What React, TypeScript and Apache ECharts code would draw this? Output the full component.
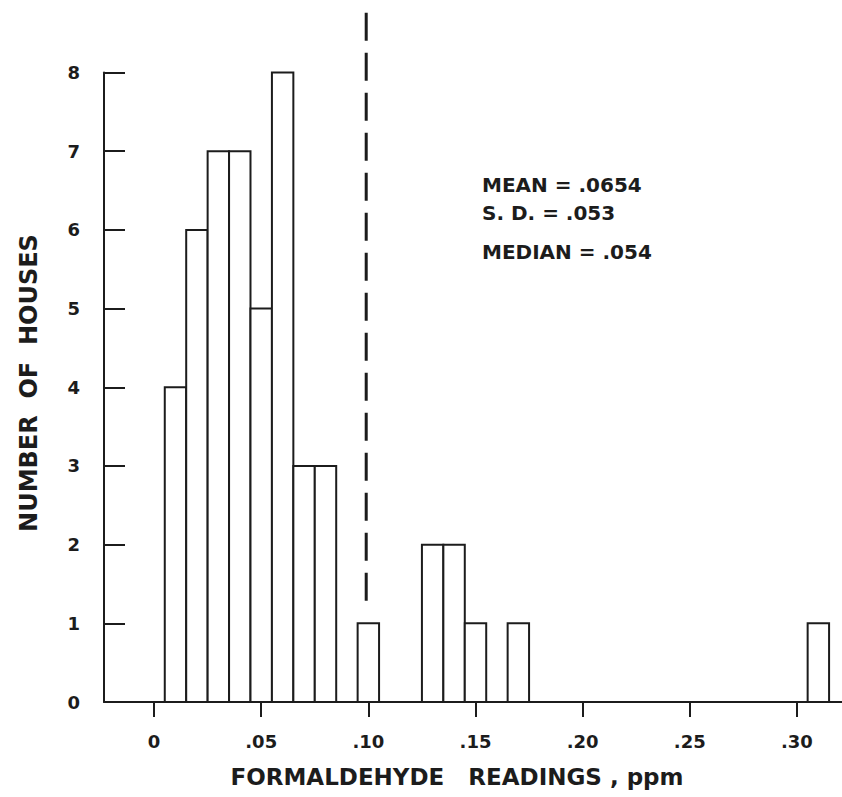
import React, { useEffect, useRef } from "react";
import * as echarts from "echarts";

// Histogram bins (bin centres, ppm) and counts (number of houses)
const binCenters = [0.01, 0.02, 0.03, 0.04, 0.05, 0.06, 0.07, 0.08, 0.10, 0.13, 0.14, 0.15, 0.17, 0.31];
const counts = [4, 6, 7, 7, 5, 8, 3, 3, 1, 2, 2, 1, 1, 1];
const binWidth = 0.01;

const xTicks = [0, 0.05, 0.1, 0.15, 0.2, 0.25, 0.3];
const xTickLabels = ["0", ".05", ".10", ".15", ".20", ".25", ".30"];
const yTicks = [0, 1, 2, 3, 4, 5, 6, 7, 8];

// Dashed reference line (x position and vertical extent in houses)
const refLineX = 0.099;
const refLineY = [8.76, 1.17];

const statLines = ["MEAN = .0654", "S. D. = .053", "MEDIAN = .054"];

const FONT = "DejaVu Sans";
const INK = "#1c1c1c";

export default function App() {
  const ref = useRef<HTMLDivElement>(null);

  useEffect(() => {
    if (!ref.current) return;
    const chart = echarts.init(ref.current, undefined, { renderer: "svg" });
    const data = binCenters.map((c, i) => [c, counts[i]]);
    chart.setOption({
      animation: false,
      backgroundColor: "#ffffff",
      grid: { left: 104, right: 0, top: 72.5, bottom: 95, containLabel: false },
      xAxis: {
        type: "value",
        min: -0.02336,
        max: 0.32103,
        splitLine: { show: false },
        axisLine: { show: true, onZero: false, lineStyle: { color: INK, width: 2 } },
        axisTick: {
          show: true,
          customValues: xTicks,
          length: 15,
          inside: false,
          lineStyle: { color: INK, width: 2 },
        },
        axisLabel: {
          customValues: xTicks,
          margin: 30,
          fontFamily: FONT,
          fontWeight: "bold",
          fontSize: 18,
          color: INK,
          formatter: (v: number) => {
            let best = 0;
            xTicks.forEach((t, i) => {
              if (Math.abs(t - v) < Math.abs(xTicks[best] - v)) best = i;
            });
            return xTickLabels[best];
          },
        },
      },
      yAxis: {
        type: "value",
        min: 0,
        max: 8,
        interval: 1,
        splitLine: { show: false },
        axisLine: { show: true, onZero: false, lineStyle: { color: INK, width: 2 } },
        axisTick: { show: true, inside: true, length: 21, lineStyle: { color: INK, width: 2 } },
        axisLabel: {
          customValues: yTicks,
          margin: 24,
          fontFamily: FONT,
          fontWeight: "bold",
          fontSize: 18,
          color: INK,
        },
      },
      series: [
        {
          type: "custom",
          data,
          encode: { x: 0, y: 1 },
          clip: false,
          renderItem: (params: any, api: any) => {
            const x = api.value(0);
            const y = api.value(1);
            const p1 = api.coord([x - binWidth / 2, y]);
            const p2 = api.coord([x + binWidth / 2, 0]);
            return {
              type: "rect",
              shape: { x: p1[0], y: p1[1], width: p2[0] - p1[0], height: p2[1] - p1[1] },
              style: { fill: "#ffffff", stroke: INK, lineWidth: 2 },
            };
          },
        },
        {
          type: "line",
          data: refLineY.map((y) => [refLineX, y]),
          clip: false,
          symbol: "none",
          lineStyle: { color: INK, width: 3, type: [28, 12] },
          z: 5,
        },
      ],
      graphic: [
        ...statLines.map((t, i) => ({
          type: "text",
          left: 482,
          top: [184.5, 212.5, 251.5][i] - 10,
          style: {
            text: t,
            fontFamily: FONT,
            fontWeight: "bold",
            fontSize: 20,
            fill: INK,
            textVerticalAlign: "top",
          },
        })),
        {
          type: "text",
          x: 29,
          y: 383,
          rotation: Math.PI / 2,
          style: {
            text: "NUMBER\u00A0 OF\u00A0 HOUSES",
            fontFamily: FONT,
            fontWeight: "bold",
            fontSize: 24,
            fill: INK,
            align: "center",
            verticalAlign: "middle",
          },
        },
        {
          type: "text",
          x: 457,
          y: 777,
          style: {
            text: "FORMALDEHYDE\u00A0\u00A0 READINGS , ppm",
            fontFamily: FONT,
            fontWeight: "bold",
            fontSize: 23,
            fill: INK,
            align: "center",
            verticalAlign: "middle",
          },
        },
      ],
    });
    return () => chart.dispose();
  }, []);

  return (
    <div
      ref={ref}
      style={{ position: "fixed", left: 0, top: 0, width: 842, height: 797, background: "#fff" }}
    />
  );
}
